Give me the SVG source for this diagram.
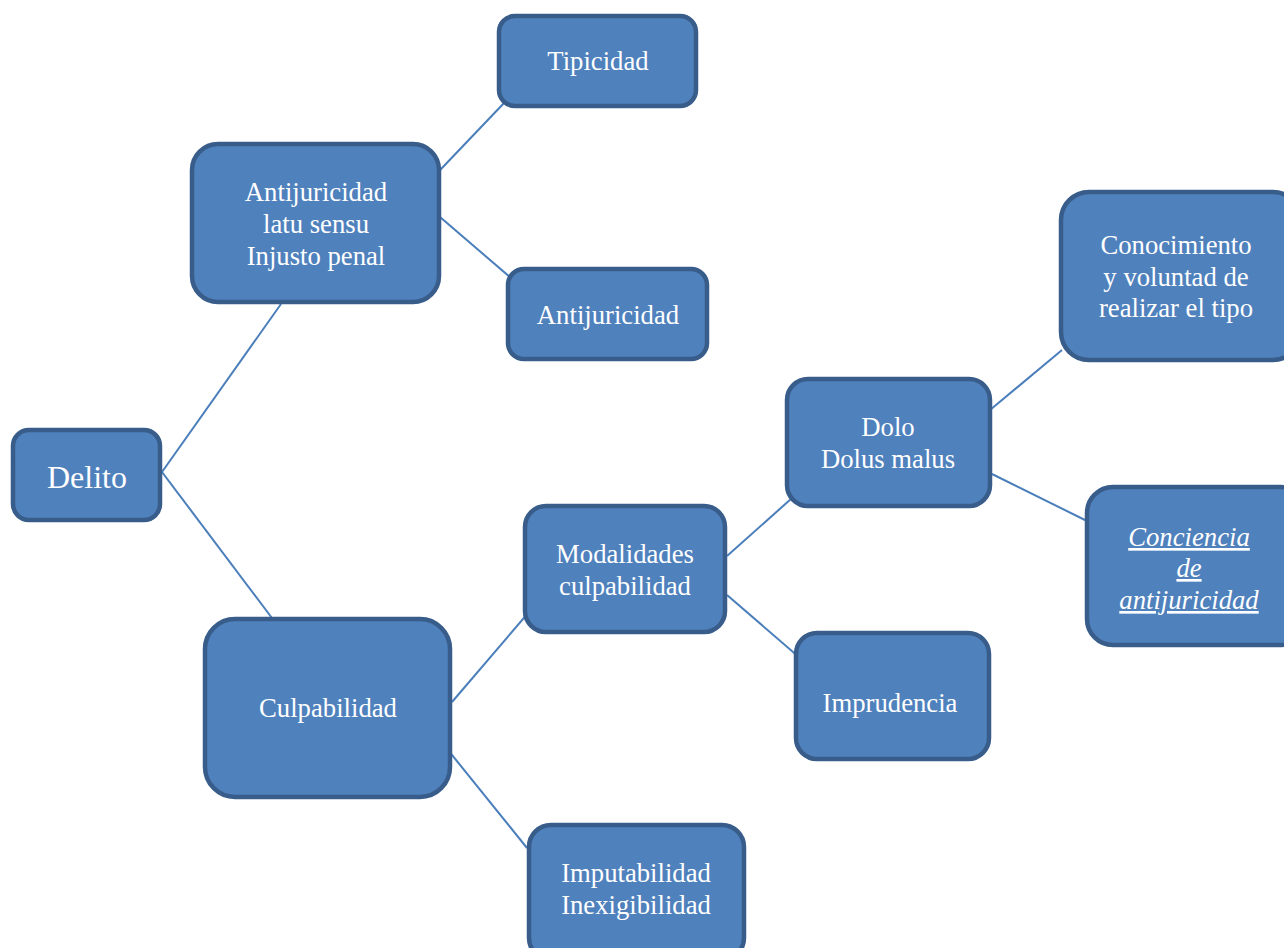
<svg xmlns="http://www.w3.org/2000/svg" width="1284" height="948" viewBox="0 0 1284 948">
<style>
.box{fill:#4F81BD;stroke:#385D8A;stroke-width:4.5}
.t{font-family:"Liberation Serif","Times New Roman",serif;font-size:26.7px;fill:#FFFFFF;text-anchor:middle}
.c{stroke:#4A7EBB;stroke-width:2;fill:none}
.u{font-style:italic;text-decoration:underline}
</style>
<rect width="1284" height="948" fill="#FFFFFF"/>
<g id="connectors">
<line class="c" x1="162" y1="472" x2="281" y2="304"/>
<line class="c" x1="162" y1="472" x2="281" y2="630"/>
<line class="c" x1="505" y1="102" x2="421" y2="190"/>
<line class="c" x1="440" y1="217" x2="525" y2="290"/>
<line class="c" x1="452" y1="702" x2="535" y2="605"/>
<line class="c" x1="448" y1="750" x2="527" y2="848"/>
<line class="c" x1="727" y1="556" x2="810" y2="482"/>
<line class="c" x1="727" y1="595" x2="800" y2="658"/>
<line class="c" x1="990" y1="410" x2="1062" y2="350"/>
<line class="c" x1="992" y1="474" x2="1087" y2="521"/>
</g>
<g id="delito"><rect class="box" x="13" y="430" width="147" height="90" rx="16"/><text class="t" x="87" y="488" style="font-size:32px">Delito</text></g>
<g id="tipicidad"><rect class="box" x="499" y="16" width="197" height="90" rx="16"/><text class="t" x="598" y="70">Tipicidad</text></g>
<g id="antijuricidad-latu"><rect class="box" x="192" y="144" width="247" height="158" rx="26"/><text class="t" x="316" y="201">Antijuricidad</text><text class="t" x="316" y="233">latu sensu</text><text class="t" x="316" y="265">Injusto penal</text></g>
<g id="antijuricidad"><rect class="box" x="508" y="269" width="199" height="90" rx="16"/><text class="t" x="608" y="324">Antijuricidad</text></g>
<g id="culpabilidad"><rect class="box" x="205" y="619" width="245" height="178" rx="30"/><text class="t" x="328" y="717">Culpabilidad</text></g>
<g id="modalidades"><rect class="box" x="525" y="506" width="200" height="126" rx="21"/><text class="t" x="625" y="563">Modalidades</text><text class="t" x="625" y="595">culpabilidad</text></g>
<g id="dolo"><rect class="box" x="787" y="379" width="203" height="127" rx="21"/><text class="t" x="888" y="436">Dolo</text><text class="t" x="888" y="468">Dolus malus</text></g>
<g id="imprudencia"><rect class="box" x="796" y="633" width="193" height="126" rx="21"/><text class="t" x="890" y="712">Imprudencia</text></g>
<g id="imputabilidad"><rect class="box" x="529" y="825" width="215" height="135" rx="22"/><text class="t" x="636" y="882">Imputabilidad</text><text class="t" x="636" y="914">Inexigibilidad</text></g>
<g id="conocimiento"><rect class="box" x="1061" y="192" width="240" height="168" rx="28"/><text class="t" x="1176" y="254">Conocimiento</text><text class="t" x="1176" y="286">y voluntad de</text><text class="t" x="1176" y="317">realizar el tipo</text></g>
<g id="conciencia"><rect class="box" x="1087" y="487" width="220" height="158" rx="26"/><text class="t u" x="1189" y="546">Conciencia</text><text class="t u" x="1189" y="577">de</text><text class="t u" x="1189" y="609">antijuricidad</text></g>
</svg>
